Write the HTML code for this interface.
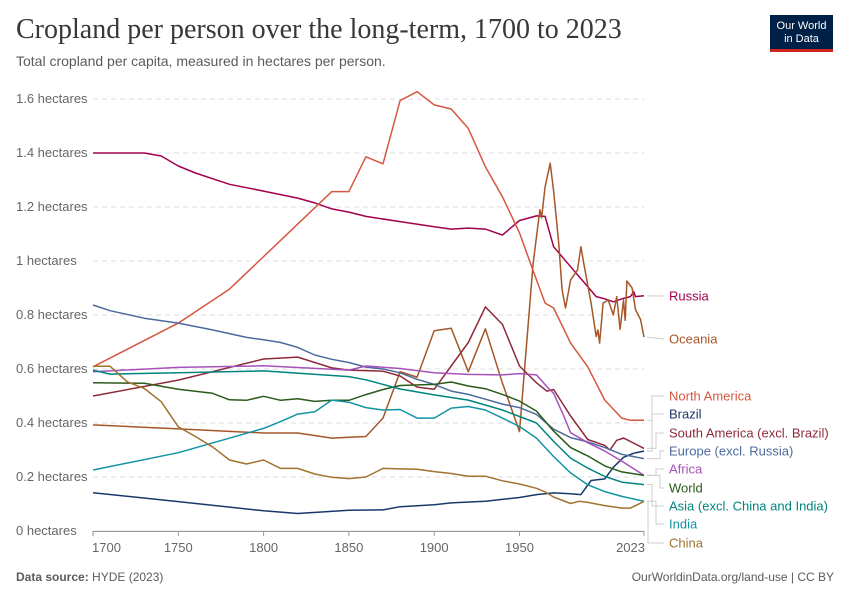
<!DOCTYPE html>
<html><head><meta charset="utf-8"><style>
body{margin:0;background:#fff;font-family:"Liberation Sans",sans-serif}
#wrap{position:relative;width:850px;height:600px;overflow:hidden}
</style></head><body>
<div id="wrap">
<div style="position:absolute;left:16px;top:14px;font-family:'Liberation Serif',serif;font-size:28px;color:#383838;white-space:nowrap">Cropland per person over the long-term, 1700 to 2023</div>
<div style="position:absolute;left:16px;top:53px;font-size:14px;color:#5b5b5b">Total cropland per capita, measured in hectares per person.</div>
<div style="position:absolute;left:770px;top:15px;width:63px;height:37px;background:#002147;border-bottom:3px solid #ce261e;color:#fff;font-size:11px;line-height:13px;text-align:center;padding-top:5px;box-sizing:border-box">Our World<br>in Data</div>
<svg id="chart" width="850" height="600" style="position:absolute;left:0;top:0"></svg>
<div style="position:absolute;left:16px;top:570px;font-size:12px;color:#5b5b5b"><b>Data source:</b> HYDE (2023)</div>
<div style="position:absolute;right:16px;top:570px;font-size:12px;color:#5b5b5b">OurWorldinData.org/land-use | CC BY</div>
</div>
<script>
const yTicks=[0,0.2,0.4,0.6,0.8,1,1.2,1.4,1.6];
const yTickLabels=["0 hectares","0.2 hectares","0.4 hectares","0.6 hectares","0.8 hectares","1 hectares","1.2 hectares","1.4 hectares","1.6 hectares"];
const xTicks=[1700,1750,1800,1850,1900,1950,2023];
const seriesNames=["Russia","Oceania","North America","Brazil","South America (excl. Brazil)","Europe (excl. Russia)","Africa","World","Asia (excl. China and India)","India","China"];
const russiaYears=[1700,1730,1740,1750,1760,1780,1800,1820,1830,1840,1850,1860,1880,1900,1910,1920,1930,1940,1950,1960,1965,1970,1980,1990,1995,2000,2005,2010,2015,2017,2018,2023];
const russiaVals=[1.4,1.4,1.389,1.352,1.326,1.284,1.259,1.233,1.215,1.193,1.181,1.165,1.146,1.127,1.118,1.122,1.118,1.096,1.15,1.167,1.165,1.053,0.979,0.905,0.868,0.86,0.849,0.86,0.868,0.886,0.868,0.871];
const oceaniaYears=[1700,1750,1800,1820,1840,1850,1860,1870,1880,1890,1900,1910,1920,1930,1940,1950,1958,1962,1963,1965,1968,1970,1973,1975,1977,1980,1984,1986,1988,1992,1995,1996,1997,1999,2002,2005,2007,2009,2011,2012,2013,2016,2018,2021,2023];
const oceaniaVals=[0.393,0.378,0.363,0.363,0.344,0.347,0.35,0.418,0.59,0.57,0.742,0.751,0.59,0.749,0.548,0.368,0.99,1.19,1.16,1.275,1.362,1.26,1.067,0.893,0.826,0.93,0.967,1.053,0.98,0.844,0.72,0.745,0.696,0.844,0.856,0.8,0.868,0.747,0.856,0.78,0.926,0.9,0.82,0.783,0.718];
const naYears=[1700,1750,1780,1840,1850,1860,1870,1880,1890,1900,1910,1920,1930,1940,1950,1960,1965,1970,1980,1990,2000,2010,2015,2023];
const naVals=[0.608,0.77,0.896,1.257,1.257,1.386,1.36,1.594,1.627,1.578,1.563,1.491,1.349,1.238,1.104,0.93,0.844,0.826,0.696,0.608,0.485,0.418,0.41,0.41];
const brazilYears=[1700,1750,1800,1820,1850,1870,1880,1900,1910,1930,1950,1960,1970,1980,1986,1992,2000,2005,2011,2017,2023];
const brazilVals=[0.142,0.109,0.075,0.065,0.077,0.078,0.09,0.097,0.104,0.11,0.124,0.135,0.141,0.138,0.135,0.187,0.193,0.236,0.273,0.288,0.296];
const saYears=[1700,1750,1800,1820,1840,1850,1870,1880,1890,1900,1910,1920,1930,1940,1950,1960,1966,1970,1980,1990,2000,2003,2007,2011,2013,2023];
const saVals=[0.5,0.559,0.637,0.644,0.604,0.596,0.592,0.574,0.533,0.525,0.611,0.698,0.83,0.765,0.611,0.549,0.518,0.524,0.426,0.339,0.317,0.3,0.336,0.344,0.338,0.306];
const europeYears=[1700,1710,1730,1750,1770,1790,1800,1810,1820,1830,1840,1850,1860,1870,1880,1890,1900,1910,1920,1930,1940,1950,1960,1970,1980,1990,2000,2010,2023];
const europeVals=[0.837,0.816,0.788,0.77,0.745,0.717,0.708,0.698,0.68,0.652,0.636,0.624,0.607,0.6,0.586,0.562,0.543,0.518,0.506,0.488,0.47,0.457,0.432,0.377,0.346,0.33,0.309,0.284,0.268];
const africaYears=[1700,1750,1800,1850,1860,1880,1900,1920,1940,1950,1960,1966,1970,1976,1980,1990,2000,2010,2023];
const africaVals=[0.59,0.606,0.612,0.596,0.611,0.602,0.586,0.58,0.578,0.583,0.578,0.535,0.51,0.426,0.364,0.327,0.296,0.259,0.206];
const worldYears=[1700,1730,1750,1770,1780,1790,1800,1810,1820,1830,1840,1850,1860,1870,1880,1900,1910,1920,1930,1940,1950,1960,1970,1980,1990,2000,2010,2023];
const worldVals=[0.549,0.547,0.525,0.51,0.486,0.484,0.499,0.484,0.49,0.48,0.484,0.484,0.505,0.524,0.539,0.543,0.552,0.537,0.527,0.506,0.481,0.444,0.37,0.309,0.278,0.241,0.219,0.206];
const asiaYears=[1700,1710,1750,1800,1850,1860,1880,1900,1920,1940,1950,1960,1970,1980,1990,2000,2010,2023];
const asiaVals=[0.596,0.581,0.586,0.593,0.572,0.56,0.526,0.504,0.485,0.448,0.424,0.4,0.332,0.27,0.233,0.202,0.181,0.172];
const indiaYears=[1700,1750,1800,1810,1820,1830,1840,1850,1860,1870,1880,1890,1900,1910,1920,1930,1940,1950,1960,1970,1980,1990,2000,2010,2023];
const indiaVals=[0.226,0.29,0.38,0.405,0.433,0.442,0.485,0.477,0.457,0.448,0.45,0.418,0.418,0.455,0.461,0.448,0.418,0.387,0.344,0.276,0.215,0.171,0.146,0.128,0.11];
const chinaYears=[1700,1710,1720,1730,1740,1750,1760,1770,1780,1790,1800,1810,1820,1830,1840,1850,1860,1870,1880,1890,1900,1910,1920,1930,1940,1950,1960,1965,1970,1980,1985,1990,2000,2010,2015,2019,2023];
const chinaVals=[0.61,0.61,0.553,0.528,0.479,0.386,0.35,0.312,0.263,0.248,0.263,0.232,0.232,0.211,0.199,0.194,0.2,0.232,0.23,0.229,0.22,0.213,0.203,0.203,0.186,0.174,0.158,0.145,0.126,0.102,0.11,0.106,0.094,0.085,0.085,0.097,0.11];

const svg=document.getElementById('chart');
const NS='http://www.w3.org/2000/svg';
function xS(y){return 93+(y-1700)*(551/323);}
function yS(v){return 531-270*v;}
function mk(tag,attrs,parent){const e=document.createElementNS(NS,tag);for(const k in attrs)e.setAttribute(k,attrs[k]);(parent||svg).appendChild(e);return e;}

yTicks.forEach((t,i)=>{
  const g=mk('line',{x1:93,x2:644,y1:yS(t),y2:yS(t),stroke:'#ddd','stroke-dasharray':t===0?'':'5,4'});
  
  
  const tx=mk('text',{x:16,y:yS(t)+4,'font-size':13,fill:'#666','font-family':'Liberation Sans, sans-serif'});
  tx.textContent=yTickLabels[i];
  
  
});
const ax=mk('line',{x1:93,x2:644,y1:531.5,y2:531.5,stroke:'#999'});


xTicks.forEach((t,i)=>{
  const tk=mk('line',{x1:xS(t),x2:xS(t),y1:531,y2:536,stroke:'#999'});
  
  
  const anchor=i===0?'start':(i===xTicks.length-1?'end':'middle');
  const tx=mk('text',{x:i===0?xS(t)-1:(i===xTicks.length-1?xS(t)+1:xS(t)),y:552,'font-size':13,fill:'#666','text-anchor':anchor,'font-family':'Liberation Sans, sans-serif'});
  tx.textContent=String(t);
  
  
});

const series=[
 [russiaYears,russiaVals,'#a2004f',296],
 [oceaniaYears,oceaniaVals,'#a65628',339],
 [naYears,naVals,'#d6573f',396],
 [brazilYears,brazilVals,'#18386a',414],
 [saYears,saVals,'#8c2a3a',433],
 [europeYears,europeVals,'#4c6a9c',451],
 [africaYears,africaVals,'#a652ba',469],
 [worldYears,worldVals,'#2c5a1a',488],
 [asiaYears,asiaVals,'#00847e',506],
 [indiaYears,indiaVals,'#1293a3',524],
 [chinaYears,chinaVals,'#a2722e',543]
];
const elbowX=[0,0,652,652,656,660,656,660,652,656,648];
series.forEach((s,i)=>{
  const [ys,vs,col,ly]=s;
  const d=ys.map((y,j)=>(j?'L':'M')+xS(y).toFixed(1)+','+yS(vs[j]).toFixed(1)).join('');
  const p=mk('path',{d:d,fill:'none',stroke:col,'stroke-width':1.5,'stroke-linejoin':'round'});
  
  
  const endY=yS(vs[vs.length-1]);
  let cd;
  if(Math.abs(endY-ly)<4||!elbowX[i]) cd='M647,'+endY+'L664,'+ly;
  else cd='M647,'+endY+'L'+elbowX[i]+','+endY+'L'+elbowX[i]+','+ly+'L664,'+ly;
  const c=mk('path',{d:cd,fill:'none',stroke:'#ccc','stroke-width':1});
  
  
  const t=mk('text',{x:669,y:ly+4.5,'font-size':13,fill:col,'font-family':'Liberation Sans, sans-serif'});
  t.textContent=seriesNames[i];
  
  
});
</script>
</body></html>
